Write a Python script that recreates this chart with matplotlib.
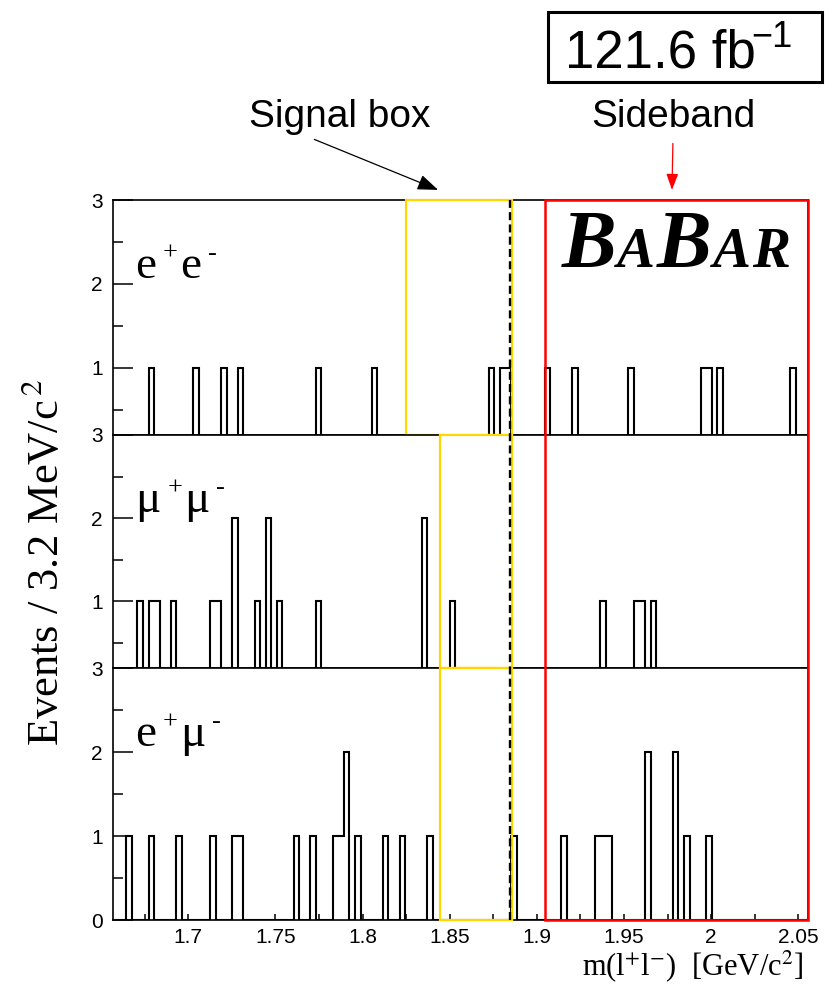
import numpy as np
import matplotlib
matplotlib.use("Agg")
import matplotlib.pyplot as plt
from matplotlib.patches import Rectangle
from matplotlib.lines import Line2D
from matplotlib.transforms import blended_transform_factory
from matplotlib.offsetbox import TextArea, HPacker, AnchoredOffsetbox
from matplotlib.ticker import MultipleLocator, FuncFormatter

plt.rcParams["font.family"] = ["Liberation Sans", "DejaVu Sans"]
plt.rcParams["mathtext.fontset"] = "custom"
plt.rcParams["mathtext.rm"] = "Liberation Sans"
plt.rcParams["mathtext.it"] = "Liberation Sans:italic"
plt.rcParams["mathtext.bf"] = "Liberation Sans:bold"

# ---------------------------------------------------------------- data
BIN_WIDTH = 0.0032          # GeV/c^2 per bin
HIST_START = 1.658          # first bin edge
N_BINS = 125
MASS_RANGE = (1.6565, 2.0557)

# reconstructed dilepton masses of the candidates (GeV/c^2)
ee_mass = [1.6788, 1.7044, 1.7204, 1.7300, 1.7748, 1.8068, 1.8740, 1.8804,
           1.8836, 1.9060, 1.9220, 1.9540, 1.9956, 1.9988, 2.0052, 2.0468]
mumu_mass = [1.6724, 1.6788, 1.6820, 1.6916, 1.7140, 1.7172, 1.7268, 1.7268,
             1.7396, 1.7460, 1.7460, 1.7524, 1.7748, 1.8356, 1.8356, 1.8516,
             1.9380, 1.9572, 1.9604, 1.9668]
emu_mass = [1.6660, 1.6788, 1.6948, 1.7140, 1.7268, 1.7300, 1.7620, 1.7716,
            1.7844, 1.7876, 1.7908, 1.7908, 1.7972, 1.8132, 1.8228, 1.8388,
            1.8868, 1.9156, 1.9348, 1.9380, 1.9412, 1.9636, 1.9636, 1.9796,
            1.9796, 1.9860, 1.9988]

# channel labels: (lepton, charge, lepton, charge)
channel_labels = [("e", "+", "e", "-"), ("\u03bc", "+", "\u03bc", "-"),
                  ("e", "+", "\u03bc", "-")]
y_lows = [0.2, 0.2, 0.0]

signal_box_ee = (1.8248, 1.8855)
signal_box_mu = (1.8443, 1.8855)
signal_edge = 1.8845
sideband = (1.9045, 2.0557)
lumi_value, lumi_unit, lumi_power = "121.6", "fb", "\u22121"

YELLOW = "#ffd700"
RED = "#ff0000"
SERIF = "Liberation Serif"

# ---------------------------------------------------------------- layout
W_PX, H_PX = 834, 986
DPI = 100
fig = plt.figure(figsize=(W_PX / DPI, H_PX / DPI), dpi=DPI)
renderer = fig.canvas.get_renderer()


def fy(px):
    return 1 - px / H_PX


def draw_label(ax, x, y, parts, base=34, sup=19, rise=13):
    """Write a particle label as base letters with raised charge signs."""
    dx = 0.0
    for j, s in enumerate(parts):
        is_sup = j % 2 == 1
        t = ax.annotate(s, xy=(x, y), xycoords=ax.get_yaxis_transform(),
                        xytext=(dx, rise if is_sup else 0),
                        textcoords="offset points", ha="left", va="baseline",
                        fontsize=sup if is_sup else base, family=SERIF)
        w = t.get_window_extent(renderer).width * 72 / DPI
        dx += w + (1.5 if is_sup else 5.0)


left = 112.5 / W_PX
width = (808.3 - 112.5) / W_PX
panel_px = [(200, 435), (435, 668), (668, 920)]

edges = HIST_START + BIN_WIDTH * np.arange(N_BINS + 1)
datasets = [ee_mass, mumu_mass, emu_mass]
boxes = [signal_box_ee, signal_box_mu, signal_box_mu]

axes = []
for i, (top, bot) in enumerate(panel_px):
    ax = fig.add_axes([left, fy(bot), width, (bot - top) / H_PX])
    axes.append(ax)
    ax.hist(datasets[i], bins=edges, histtype="step", color="black",
            lw=1.5, zorder=2)
    ax.set_xlim(*MASS_RANGE)
    ax.set_ylim(y_lows[i], 3)
    ax.yaxis.set_major_locator(MultipleLocator(1))
    ax.yaxis.set_minor_locator(MultipleLocator(0.5))
    ax.tick_params(axis="y", which="major", direction="in", length=14.5,
                   width=1.1, labelsize=15, pad=7)
    ax.tick_params(axis="y", which="minor", direction="in", length=7.2,
                   width=1.1)
    for s in ax.spines.values():
        s.set_linewidth(1.2)
    if i < 2:
        ax.tick_params(axis="x", which="both", bottom=False,
                       labelbottom=False)
    else:
        ax.xaxis.set_major_locator(MultipleLocator(0.05))
        ax.xaxis.set_minor_locator(MultipleLocator(0.025))
        ax.xaxis.set_major_formatter(
            FuncFormatter(lambda v, p: "%g" % round(v, 3)))
        ax.tick_params(axis="x", which="major", direction="in", length=4.5,
                       width=1.1, labelsize=15, pad=6)
        ax.tick_params(axis="x", which="minor", direction="in", length=4.0,
                       width=1.1)
    # signal region for this channel
    ax.axvspan(*boxes[i], fill=False, ec=YELLOW, lw=1.6, zorder=3,
               clip_on=False)
    draw_label(ax, 0.0323, 2.07, channel_labels[i])

ax_top, ax_mid, ax_bot = axes

# sideband box and signal edge spanning all three panels
span = blended_transform_factory(ax_bot.transData, fig.transFigure)
y0, y1 = fy(panel_px[2][1]), fy(panel_px[0][0])
fig.add_artist(Rectangle((sideband[0], y0), sideband[1] - sideband[0], y1 - y0,
                         transform=span, fill=False, ec=RED, lw=1.8, zorder=5))
fig.add_artist(Line2D([signal_edge, signal_edge], [y0, y1], transform=span,
                      color="black", lw=1.7, ls=(0, (3.4, 1.8)), zorder=6))

# BABAR logo
big = dict(family=SERIF, weight="bold", style="italic", size=59)
small = dict(family=SERIF, weight="bold", style="italic", size=41)
letters = [TextArea("B", textprops=big), TextArea("A", textprops=small),
           TextArea("B", textprops=big), TextArea("A", textprops=small),
           TextArea("R", textprops=small)]
logo = HPacker(children=letters, align="baseline", pad=0, sep=1)
logo_box = AnchoredOffsetbox(loc="lower left", child=logo, pad=0, borderpad=0,
                             frameon=False, bbox_to_anchor=(0.645, 0.64),
                             bbox_transform=ax_top.transAxes)
ax_top.add_artist(logo_box)

# annotations above the top panel
xy_tr = ("data", "axes fraction")
ax_top.annotate("Signal box", xy=(1.8433, 1.043), xycoords=xy_tr,
                xytext=(1.7870, 1.353), textcoords=xy_tr, ha="center",
                va="center", fontsize=28, annotation_clip=False,
                arrowprops=dict(arrowstyle="-|>,head_length=0.45,head_width=0.17",
                                color="black", lw=0.9, relpos=(0.3, 0.0),
                                shrinkA=3, shrinkB=0))
ax_top.annotate("Sideband", xy=(1.9775, 1.043), xycoords=xy_tr,
                xytext=(1.9781, 1.353), textcoords=xy_tr, ha="center",
                va="center", fontsize=28, annotation_clip=False,
                arrowprops=dict(arrowstyle="-|>,head_length=0.35,head_width=0.13",
                                color=RED, lw=0.9, relpos=(0.5, 0.0),
                                shrinkA=4, shrinkB=0))

# integrated luminosity
fig.add_artist(Rectangle((548 / W_PX, fy(82)), 274 / W_PX, 70 / H_PX,
                         transform=fig.transFigure, fill=False, ec="black",
                         lw=2.2))
lumi_base = fig.text(565 / W_PX, fy(68), lumi_value + " " + lumi_unit,
                     ha="left", va="baseline", fontsize=38)
lumi_w = lumi_base.get_window_extent(renderer).width * 72 / DPI
plt.annotate(lumi_power, xy=(565 / W_PX, fy(68)), xycoords="figure fraction",
             xytext=(lumi_w - 3, 15), textcoords="offset points",
             ha="left", va="baseline", fontsize=26)

fig.text(46 / W_PX, fy(562), r"Events / 3.2 MeV/c$^{\,2}$", rotation=90,
         ha="center", va="center", fontsize=32, family=SERIF,
         math_fontfamily="stix")
fig.text(803 / W_PX, fy(975), r"m(l$^{+}$l$^{-}$)  [GeV/c$^{2}$]", ha="right",
         va="baseline", fontsize=22, family=SERIF, math_fontfamily="stix")

fig.savefig("out.png", dpi=DPI)
